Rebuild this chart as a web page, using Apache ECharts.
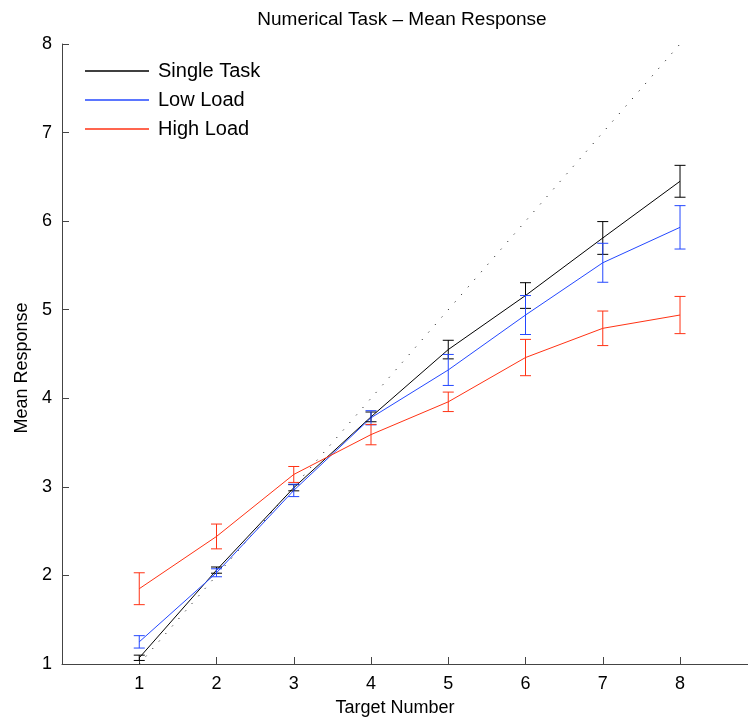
<!DOCTYPE html>
<html>
<head>
<meta charset="utf-8">
<script src="https://cdn.jsdelivr.net/npm/echarts@6/dist/echarts.min.js"></script>
<style>html,body{margin:0;padding:0;background:#fff}#c{width:748px;height:726px}</style>
</head>
<body>
<div id="c"></div>
<script>
const targets = [1, 2, 3, 4, 5, 6, 7, 8];
const singleMean = [1.07, 2.06, 2.99, 3.79, 4.55, 5.16, 5.81, 6.45];
const singleErr  = [0.03, 0.035, 0.035, 0.055, 0.105, 0.145, 0.185, 0.18];
const lowMean    = [1.25, 2.03, 2.96, 3.78, 4.32, 4.94, 5.53, 5.93];
const lowErr     = [0.07, 0.045, 0.07, 0.08, 0.175, 0.22, 0.22, 0.245];
const highMean   = [1.85, 2.44, 3.14, 3.59, 3.96, 4.46, 4.79, 4.94];
const highErr    = [0.18, 0.14, 0.09, 0.115, 0.11, 0.205, 0.195, 0.21];
const identity   = [[1, 1], [8, 8]];
const xTicks = [1, 2, 3, 4, 5, 6, 7, 8];
const yTicks = [1, 2, 3, 4, 5, 6, 7, 8];
const seriesNames = ['Single Task', 'Low Load', 'High Load'];
const colors = ['#000000', '#2448ff', '#ff3214'];

const FONT = '"Liberation Sans", Arial, Helvetica, sans-serif';

function lineData(means) { return targets.map((t, i) => [t, means[i]]); }
function errData(means, errs) { return targets.map((t, i) => [t, means[i], errs[i]]); }

function errRender(color) {
  return function (params, api) {
    const x = api.value(0), m = api.value(1), e = api.value(2);
    const lo = api.coord([x, m - e]);
    const hi = api.coord([x, m + e]);
    const cw = 5.5;
    const st = { stroke: color, lineWidth: 1 };
    return {
      type: 'group',
      children: [
        { type: 'line', shape: { x1: lo[0], y1: lo[1], x2: hi[0], y2: hi[1] }, style: st },
        { type: 'line', shape: { x1: lo[0] - cw, y1: lo[1], x2: lo[0] + cw, y2: lo[1] }, style: st },
        { type: 'line', shape: { x1: hi[0] - cw, y1: hi[1], x2: hi[0] + cw, y2: hi[1] }, style: st }
      ]
    };
  };
}

const means = [singleMean, lowMean, highMean];
const errs = [singleErr, lowErr, highErr];

const series = [{
  name: 'identity', type: 'line', data: identity, symbol: 'none', silent: true,
  lineStyle: { color: '#000', width: 1, type: [1, 9] }, z: 1
}];
for (let k = 0; k < 3; k++) {
  series.push({
    name: seriesNames[k], type: 'line', data: lineData(means[k]), symbol: 'none',
    lineStyle: { color: colors[k], width: 1 }, itemStyle: { color: colors[k] }, z: 3
  });
  series.push({
    name: seriesNames[k] + ' err', type: 'custom', data: errData(means[k], errs[k]),
    renderItem: errRender(colors[k]), z: 4, silent: true
  });
}

const chart = echarts.init(document.getElementById('c'), null, { renderer: 'canvas' });
chart.setOption({
  animation: false,
  backgroundColor: '#ffffff',
  title: {
    text: 'Numerical Task \u2013 Mean Response',
    left: 402, top: 10, textAlign: 'center', padding: 0,
    textStyle: { fontFamily: FONT, fontSize: 19, fontWeight: 'normal', color: '#000' }
  },
  legend: {
    data: seriesNames.map((n, k) => ({ name: n, icon: 'rect', itemStyle: { color: colors[k] } })),
    orient: 'vertical', left: 85, top: 61, padding: 0,
    itemWidth: 64, itemHeight: 1.3, itemGap: 9,
    textStyle: { fontFamily: FONT, fontSize: 20, color: '#000', padding: [0, 0, 0, 4] }
  },
  grid: { left: 62, right: 0, top: 44, bottom: 62, containLabel: false },
  xAxis: {
    type: 'value', min: 0, max: 8.88, interval: 1,
    axisLine: { lineStyle: { color: '#444', width: 1 } },
    axisTick: { inside: true, length: 7, lineStyle: { color: '#444' } },
    splitLine: { show: false },
    axisLabel: {
      margin: 11, fontFamily: FONT, fontSize: 18, color: '#000', showMaxLabel: false,
      formatter: v => (xTicks.indexOf(v) >= 0 ? String(v) : '')
    }
  },
  yAxis: {
    type: 'value', min: 1, max: 8, interval: 1,
    axisLine: { show: true, lineStyle: { color: '#444', width: 1 } },
    axisTick: { show: true, inside: true, length: 7, lineStyle: { color: '#444' } },
    splitLine: { show: false },
    axisLabel: {
      margin: 10, fontFamily: FONT, fontSize: 18, color: '#000',
      formatter: v => (yTicks.indexOf(v) >= 0 ? String(v) : '')
    }
  },
  graphic: [
    {
      type: 'text', x: 395, y: 708,
      style: { text: 'Target Number', fontFamily: FONT, fontSize: 18, fill: '#000', align: 'center', verticalAlign: 'middle' }
    },
    {
      type: 'text', x: 22, y: 368, rotation: Math.PI / 2,
      style: { text: 'Mean Response', fontFamily: FONT, fontSize: 18, fill: '#000', align: 'center', verticalAlign: 'middle' }
    }
  ],
  series: series
});
</script>
</body>
</html>
